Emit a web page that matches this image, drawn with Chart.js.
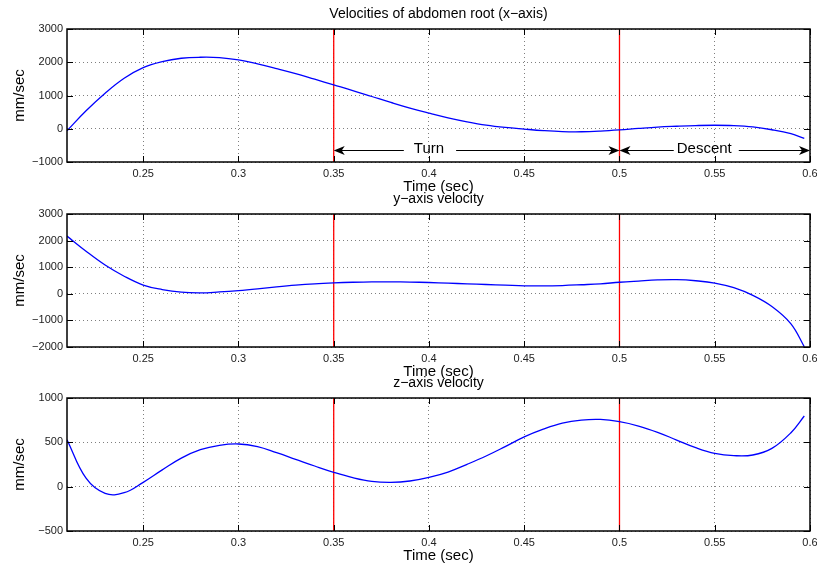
<!DOCTYPE html>
<html><head><meta charset="utf-8">
<script src="https://cdn.jsdelivr.net/npm/chart.js@4.4.1/dist/chart.umd.min.js"></script>
<style>
html,body{margin:0;padding:0;background:#fff;}
#wrap{position:relative;width:817px;height:567px;overflow:hidden;background:#fff;}
canvas{position:absolute;left:0;top:0;}
</style></head><body>
<div id="wrap">
<canvas id="c1" width="817" height="567"></canvas>
<canvas id="c2" width="817" height="567"></canvas>
<canvas id="c3" width="817" height="567"></canvas>
</div>
<script>
// ---------- data ----------
const timeSec = [0.21,0.22,0.23,0.24,0.25,0.26,0.27,0.28,0.29,0.30,
                 0.31,0.32,0.33,0.34,0.35,0.36,0.37,0.38,0.39,0.40,
                 0.41,0.42,0.43,0.44,0.45,0.46,0.47,0.48,0.49,0.50,
                 0.51,0.52,0.53,0.54,0.55,0.56,0.57,0.58,0.59,0.597];
const xAxisVel = [-60,540,1070,1520,1840,2020,2120,2150,2140,2070,
                  1950,1810,1660,1490,1320,1150,970,790,620,470,
                  330,210,110,40,-10,-55,-85,-90,-70,-35,
                  10,50,75,95,105,95,55,-30,-150,-290];
const yAxisVel = [2170,1600,1080,660,330,160,60,35,70,120,
                  185,260,325,375,410,435,450,450,440,425,
                  400,375,350,325,300,295,310,340,375,435,
                  480,520,530,490,405,230,-60,-480,-1130,-1990];
const zAxisVel = [530,95,-76,-68,49,189,322,417,466,481,
                  451,383,308,233,162,102,60,49,64,105,
                  165,252,346,452,562,649,717,751,758,733,
                  684,613,526,440,376,350,357,432,609,797];
const timeTicks = [0.25,0.3,0.35,0.4,0.45,0.5,0.55,0.6];
const xVelTicks = [-1000,0,1000,2000,3000];
const yVelTicks = [-2000,-1000,0,1000,2000,3000];
const zVelTicks = [-500,0,500,1000];
const timeMin = 0.21, timeMax = 0.6;
const phaseBoundaries = [0.35, 0.5];
const phaseLabels = ['Turn', 'Descent'];
const phaseStarts = [0.35, 0.5];
const phaseEnds = [0.5, 0.6];
const phaseLabelX = [0.4, 0.5445];
const phaseArrowY = -650;
const panelTitles = ['Velocities of abdomen root (x\u2212axis)', 'y\u2212axis velocity', 'z\u2212axis velocity'];
const xAxisTitle = 'Time (sec)';
const yAxisTitle = 'mm/sec';

// ---------- drawing ----------
const FONT = "'Liberation Sans', Arial, Helvetica, sans-serif";
Chart.defaults.font.family = FONT;
const XH = 20;
const H = 567;

function fmt(v){ return v < 0 ? '\u2212' + Math.abs(v) : String(v); }

function arrowHead(ctx, x, y, dir){
  ctx.beginPath();
  ctx.moveTo(x, y);
  ctx.lineTo(x - dir*11, y - 4.5);
  ctx.lineTo(x - dir*8, y);
  ctx.lineTo(x - dir*11, y + 4.5);
  ctx.closePath();
  ctx.fill();
}

function makePanel(id, values, yTicks, title, area, withPhases){
  const panelPlugin = {
    id: 'panel' + id,
    afterDatasetsDraw(chart){
      const ctx = chart.ctx, a = chart.chartArea;
      const xs = chart.scales.x, ys = chart.scales.y;
      ctx.save();
      ctx.strokeStyle = '#000'; ctx.lineWidth = 1;
      ctx.beginPath();
      timeTicks.forEach(v => {
        const px = Math.round(xs.getPixelForValue(v)) + 0.5;
        ctx.moveTo(px, a.bottom); ctx.lineTo(px, a.bottom - 6);
        ctx.moveTo(px, a.top); ctx.lineTo(px, a.top + 6);
      });
      yTicks.forEach(v => {
        const py = Math.round(ys.getPixelForValue(v)) + 0.5;
        ctx.moveTo(a.left, py); ctx.lineTo(a.left + 6, py);
        ctx.moveTo(a.right, py); ctx.lineTo(a.right - 6, py);
      });
      ctx.stroke();
      ctx.lineWidth = 1.5;
      ctx.strokeRect(a.left, a.top, a.right - a.left, a.bottom - a.top);
      if (withPhases){
        ctx.fillStyle = '#000'; ctx.strokeStyle = '#000'; ctx.lineWidth = 1;
        ctx.font = '15px ' + FONT;
        ctx.textAlign = 'center'; ctx.textBaseline = 'middle';
        const gaps = [[10, 12], [3, 7]];
        const py = Math.round(ys.getPixelForValue(phaseArrowY)) + 0.5;
        phaseLabels.forEach((lab, i) => {
          const x1 = xs.getPixelForValue(phaseStarts[i]);
          const x2 = xs.getPixelForValue(phaseEnds[i]);
          const tx = xs.getPixelForValue(phaseLabelX[i]);
          const w = ctx.measureText(lab).width;
          ctx.beginPath();
          ctx.moveTo(x1 + 6, py); ctx.lineTo(tx - w/2 - gaps[i][0], py);
          ctx.moveTo(tx + w/2 + gaps[i][1], py); ctx.lineTo(x2 - 6, py);
          ctx.stroke();
          arrowHead(ctx, x1, py, -1);
          arrowHead(ctx, x2, py, 1);
          ctx.fillText(lab, tx, py - 1.5);
        });
      }
      ctx.restore();
    },
    afterDraw(chart){
      const ctx = chart.ctx, a = chart.chartArea;
      ctx.save();
      ctx.fillStyle = '#000';
      ctx.textAlign = 'center'; ctx.textBaseline = 'middle';
      ctx.font = '14px ' + FONT;
      ctx.fillText(title, (a.left + a.right)/2, a.top - 15);
      ctx.font = '15px ' + FONT;
      ctx.fillText(xAxisTitle, (a.left + a.right)/2, a.bottom + 24.5);
      ctx.translate(20, (a.top + a.bottom)/2);
      ctx.rotate(-Math.PI/2);
      ctx.fillText(yAxisTitle, 0, 0);
      ctx.restore();
    }
  };

  const datasets = [{
    data: timeSec.map((t, i) => ({x: t, y: values[i]})),
    borderColor: '#0000ff', borderWidth: 1.3, pointRadius: 0,
    tension: 0.4, fill: false
  }];
  phaseBoundaries.forEach(b => datasets.push({
    data: [{x: b, y: yTicks[0]}, {x: b, y: yTicks[yTicks.length-1]}],
    borderColor: '#ff0000', borderWidth: 1.3, pointRadius: 0, fill: false
  }));

  const gridOpts = {color: 'rgba(0,0,0,0.5)', lineWidth: 1, drawTicks: false};
  const borderOpts = {display: false, dash: [1, 3]};

  return new Chart(document.getElementById(id), {
    type: 'line',
    data: {datasets},
    options: {
      responsive: false, animation: false, devicePixelRatio: 1,
      events: [],
      layout: {padding: {left: 0, right: 7, top: area.top, bottom: H - area.bottom - XH}},
      plugins: {legend: {display: false}, tooltip: {enabled: false}, title: {display: false}},
      scales: {
        x: {
          type: 'linear', min: timeMin, max: timeMax,
          afterBuildTicks: s => { s.ticks = timeTicks.map(v => ({value: v})); },
          afterFit: s => { s.height = XH; s.paddingLeft = 0; s.paddingRight = 0; },
          ticks: {callback: v => String(v), font: {size: 11}, color: '#222', padding: 5, maxRotation: 0, autoSkip: false},
          grid: gridOpts, border: borderOpts
        },
        y: {
          type: 'linear', min: yTicks[0], max: yTicks[yTicks.length-1],
          afterBuildTicks: s => { s.ticks = yTicks.map(v => ({value: v})); },
          afterFit: s => { s.width = 67; s.paddingTop = 0; s.paddingBottom = 0; },
          ticks: {callback: v => fmt(v), font: {size: 11}, color: '#222', padding: 4, autoSkip: false},
          grid: gridOpts, border: borderOpts
        }
      }
    },
    plugins: [panelPlugin]
  });
}

makePanel('c1', xAxisVel, xVelTicks, panelTitles[0], {top: 29, bottom: 162}, true);
makePanel('c2', yAxisVel, yVelTicks, panelTitles[1], {top: 214, bottom: 347}, false);
makePanel('c3', zAxisVel, zVelTicks, panelTitles[2], {top: 398, bottom: 531}, false);
</script>
</body></html>
